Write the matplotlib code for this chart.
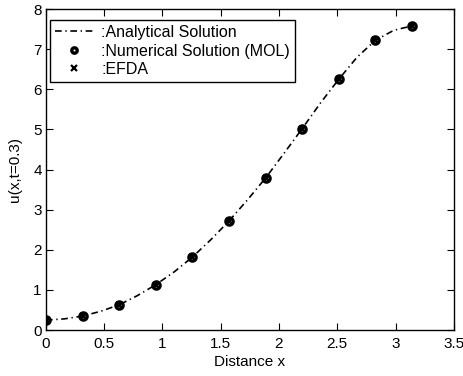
import numpy as np
import matplotlib.pyplot as plt

plt.rcParams['font.family'] = ['Liberation Sans', 'DejaVu Sans']

# Data
# analytical curve, read at half grid steps
x_exact = [0.0, 0.157, 0.314, 0.471, 0.628, 0.785, 0.942, 1.100, 1.257, 1.414,
           1.571, 1.728, 1.885, 2.042, 2.199, 2.356, 2.513, 2.670, 2.827, 2.985, 3.142]
u_exact = [0.25, 0.28, 0.35, 0.47, 0.63, 0.86, 1.13, 1.45, 1.82, 2.25,
           2.72, 3.24, 3.79, 4.40, 5.02, 5.66, 6.25, 6.80, 7.22, 7.47, 7.58]
# numerical solutions on the MOL grid
x = [0.0, 0.314, 0.628, 0.942, 1.257, 1.571, 1.885, 2.199, 2.513, 2.827, 3.142]
u_mol = [0.25, 0.35, 0.63, 1.13, 1.82, 2.72, 3.79, 5.02, 6.25, 7.22, 7.58]
u_efda = [0.25, 0.35, 0.63, 1.13, 1.82, 2.72, 3.79, 5.02, 6.25, 7.22, 7.58]

fig = plt.figure(figsize=(4.64, 3.76), dpi=100)
ax = fig.add_axes([0.099, 0.122, 0.879, 0.854])

ax.plot(x_exact, u_exact, 'k', lw=1.2, dashes=(4, 2.2, 0.8, 2.2), label=':Analytical Solution')
ax.plot(x, u_mol, 'ko', ms=5.2, mfc='none', mew=2.4, label=':Numerical Solution (MOL)')
ax.plot(x, u_efda, 'kx', ms=5, mew=1.6, label=':EFDA')

ax.set_xlim(0, 3.5)
ax.set_ylim(0, 8)
ax.set_xticks([0, 0.5, 1, 1.5, 2, 2.5, 3, 3.5])
ax.set_xticklabels(['0', '0.5', '1', '1.5', '2', '2.5', '3', '3.5'])
ax.set_yticks(range(0, 9))
ax.tick_params(direction='in', top=True, right=True, labelsize=11, length=5)
ax.tick_params(axis='x', pad=5)
ax.tick_params(axis='y', pad=3)
for s in ax.spines.values():
    s.set_linewidth(1.0)
ax.set_xlabel('Distance x', fontsize=11, labelpad=3)
ax.set_ylabel('u(x,t=0.3)', fontsize=11, labelpad=8)

leg = ax.legend(loc='upper left', fontsize=11.5, fancybox=False, edgecolor='black',
                framealpha=1, handlelength=2.4, labelspacing=0.22, markerscale=0.75,
                borderpad=0.3, handletextpad=0.5, borderaxespad=0,
                bbox_to_anchor=(0.01, 0.965))
leg.get_frame().set_linewidth(1.0)

fig.savefig('out.png', dpi=100)
